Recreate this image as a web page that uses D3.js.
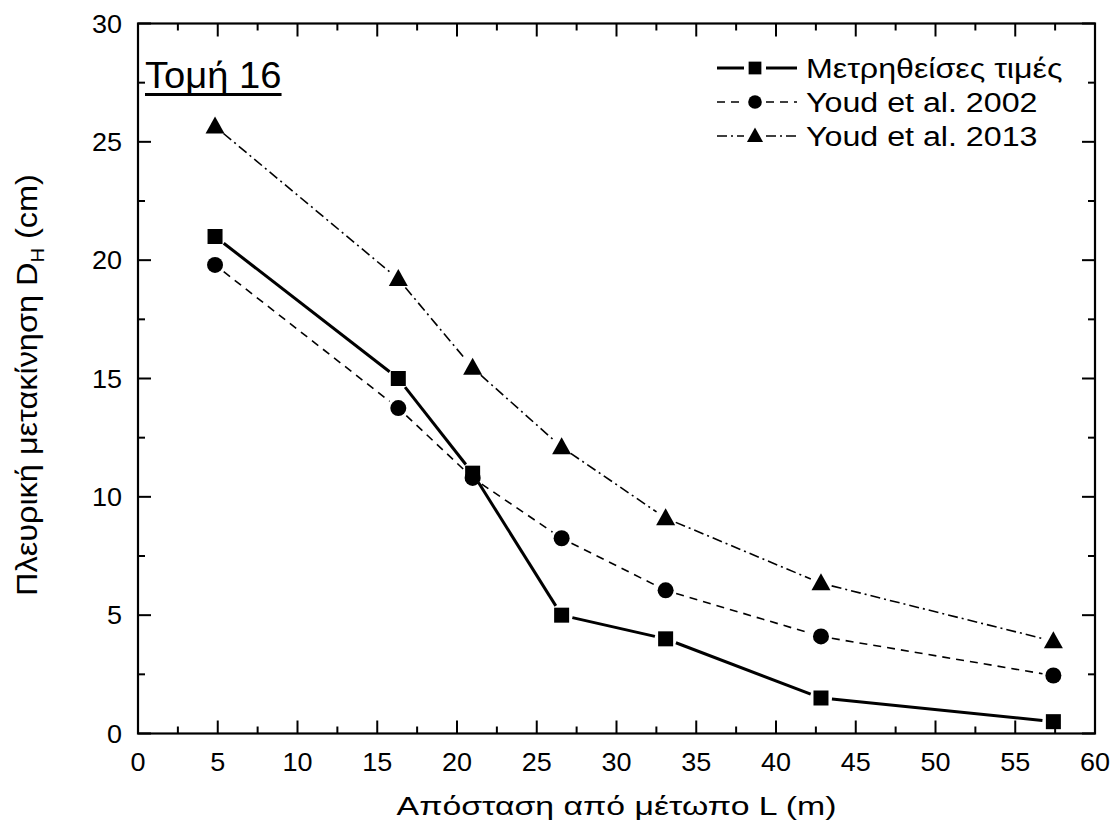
<!DOCTYPE html>
<html><head><meta charset="utf-8">
<script src="https://cdn.jsdelivr.net/npm/d3@7"></script>
<style>body{margin:0;background:#fff}svg{display:block}text{font-family:"Liberation Sans",Arial,sans-serif;fill:#000}</style>
</head><body><svg id="c" width="1116" height="832"></svg>
<script>
const xValues = [4.83, 16.32, 20.98, 26.56, 33.08, 42.82, 57.39];
const measured = [21.0, 15.0, 11.0, 5.0, 4.0, 1.5, 0.5];
const youd2002 = [19.8, 13.75, 10.8, 8.25, 6.05, 4.1, 2.45];
const youd2013 = [25.65, 19.2, 15.45, 12.1, 9.1, 6.35, 3.9];
const seriesNames = ["Μετρηθείσες τιμές", "Youd et al. 2002", "Youd et al. 2013"];
const xTicks = [0,5,10,15,20,25,30,35,40,45,50,55,60];
const yTicks = [0,5,10,15,20,25,30];

const svg = d3.select("#c");
const L=138, R=1095, T=23.5, B=733.5;
const x = d3.scaleLinear().domain([0,60]).range([L,R]);
const y = d3.scaleLinear().domain([0,30]).range([B,T]);

const series = [
  {name:seriesNames[0], vals:measured, sym:"square", width:3, dash:null},
  {name:seriesNames[1], vals:youd2002, sym:"circle", width:1.6, dash:"8,6"},
  {name:seriesNames[2], vals:youd2013, sym:"triangle", width:1.6, dash:"10,4,2,4"}
];

function drawSym(g, sym, cx, cy, k){
  k = k||1;
  if(sym==="square") g.append("rect").attr("x",cx-7.5*k).attr("y",cy-7.5*k).attr("width",15*k).attr("height",15*k);
  else if(sym==="circle") g.append("circle").attr("cx",cx).attr("cy",cy).attr("r",8*k);
  else g.append("path").attr("d",`M${cx},${cy-10*k}L${cx+9.5*k},${cy+7*k}L${cx-9.5*k},${cy+7*k}Z`);
}
function stext(parent, tx, ty, txt, size, sx, anchor, rot){
  const t = parent.append("text")
    .attr("transform",`translate(${tx},${ty})${rot?` rotate(${rot})`:""} scale(${sx},1)`)
    .attr("font-size",size).attr("text-anchor",anchor||"start");
  if(txt!==null) t.text(txt);
  return t;
}

const gap = 11;
series.forEach(s=>{
  const g = svg.append("g");
  const pts = xValues.map((xv,i)=>[x(xv), y(s.vals[i])]);
  for(let i=0;i<pts.length-1;i++){
    const [x1,y1]=pts[i],[x2,y2]=pts[i+1];
    const dx=x2-x1, dy=y2-y1, d=Math.hypot(dx,dy);
    const ux=dx/d, uy=dy/d;
    g.append("line").attr("x1",x1+ux*gap).attr("y1",y1+uy*gap).attr("x2",x2-ux*gap).attr("y2",y2-uy*gap)
      .attr("stroke","#000").attr("stroke-width",s.width).attr("stroke-dasharray",s.dash);
  }
  pts.forEach(p=>drawSym(g, s.sym, p[0], p[1]));
});

// axes frame
const ax = svg.append("g");
ax.append("rect").attr("x",L).attr("y",T).attr("width",R-L).attr("height",B-T).attr("fill","none").attr("stroke","#000").attr("stroke-width",2.2);
const major=13, minor=7;
d3.range(0,60.01,2.5).forEach(v=>{
  const len = (v%5===0)?major:minor;
  ax.append("line").attr("x1",x(v)).attr("x2",x(v)).attr("y1",B).attr("y2",B-len).attr("stroke","#000").attr("stroke-width",2);
  ax.append("line").attr("x1",x(v)).attr("x2",x(v)).attr("y1",T).attr("y2",T+len).attr("stroke","#000").attr("stroke-width",2);
});
d3.range(0,30.01,2.5).forEach(v=>{
  const len = (v%5===0)?major:minor;
  ax.append("line").attr("y1",y(v)).attr("y2",y(v)).attr("x1",L).attr("x2",L+len).attr("stroke","#000").attr("stroke-width",2);
  ax.append("line").attr("y1",y(v)).attr("y2",y(v)).attr("x1",R).attr("x2",R-len).attr("stroke","#000").attr("stroke-width",2);
});
xTicks.forEach(v=>stext(ax, x(v), B+37.5, v, 25, 1.08, "middle"));
yTicks.forEach(v=>stext(ax, L-16, y(v)+9, v, 25, 1.08, "end"));

// axis titles
stext(svg, (L+R)/2, 815, "Απόσταση από μέτωπο L (m)", 26, 1.3, "middle");
const yt = stext(svg, 37, 385, null, 29, 1.12, "middle", -90);
yt.append("tspan").text("Πλευρική μετακίνηση D");
yt.append("tspan").attr("font-size",18).attr("dy",7).text("H");
yt.append("tspan").attr("dy",-7).text(" (cm)");

// title label
const tl = stext(svg, 145, 88, "Τομή 16", 36, 1.06, "start");
const bb = tl.node().getBBox();
svg.append("line").attr("x1",145).attr("x2",145+bb.width*1.06).attr("y1",94.5).attr("y2",94.5).attr("stroke","#000").attr("stroke-width",3);

// legend
const ly = [68, 102, 136];
series.forEach((s,i)=>{
  const g = svg.append("g");
  const cy = ly[i], cx = 755;
  g.append("line").attr("x1",717).attr("x2",cx-11).attr("y1",cy).attr("y2",cy).attr("stroke","#000").attr("stroke-width",s.width).attr("stroke-dasharray",s.dash);
  g.append("line").attr("x1",cx+11).attr("x2",797).attr("y1",cy).attr("y2",cy).attr("stroke","#000").attr("stroke-width",s.width).attr("stroke-dasharray",s.dash);
  drawSym(g, s.sym, cx, cy, 0.85);
  stext(g, 806, cy+10, s.name, 28, 1.15, "start");
});
</script></body></html>
